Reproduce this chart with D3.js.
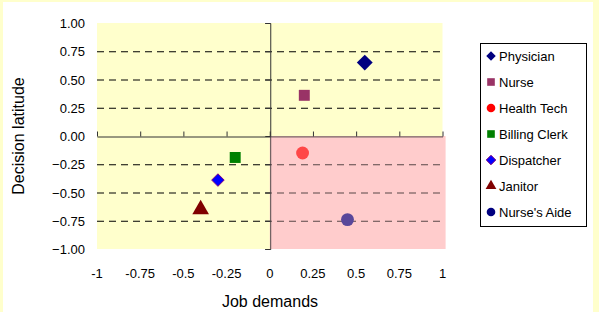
<!DOCTYPE html>
<html>
<head>
<meta charset="utf-8">
<script src="https://cdn.jsdelivr.net/npm/d3@7"></script>
<style>
  body { margin: 0; background: #fff; }
  text { font-family: Arial, "Liberation Sans", sans-serif; fill: #000; }
</style>
</head>
<body>
<div id="chart"></div>
<script>
/* data */
var jobs = ["Physician", "Nurse", "Health Tech", "Billing Clerk", "Dispatcher", "Janitor", "Nurse's Aide"];
var demands = [0.55, 0.20, 0.19, -0.20, -0.30, -0.40, 0.45];
var latitude = [0.65, 0.36, -0.15, -0.19, -0.39, -0.65, -0.74];
var shapes = ["diamond", "square", "circle", "square", "diamond", "triangle", "circle"];
var colors = ["#000080", "#993366", "#ff0000", "#008000", "#0000ff", "#800000", "#000080"];
var xTicks = [-1, -0.75, -0.5, -0.25, 0, 0.25, 0.5, 0.75, 1];
var yTicks = [1, 0.75, 0.5, 0.25, 0, -0.25, -0.5, -0.75, -1];

var width = 599, height = 312;

var svg = d3.select("#chart").append("svg").attr("width", width).attr("height", height);

/* yellow frame */
svg.append("rect").attr("x", 0).attr("y", 0).attr("width", width).attr("height", height).attr("fill", "#ffffcc");
svg.append("rect").attr("x", 3).attr("y", 2).attr("width", 590).attr("height", height - 2).attr("fill", "#fff");

var x = d3.scaleLinear().domain([-1, 1]).range([97, 442.5]);
var y = d3.scaleLinear().domain([-1, 1]).range([249, 23]);

/* plot area */
svg.append("rect")
    .attr("x", x(-1)).attr("y", y(1))
    .attr("width", x(1) - x(-1)).attr("height", y(-1) - y(1))
    .attr("fill", "#ffffcc");

svg.append("rect")
    .attr("x", x(0)).attr("y", y(0))
    .attr("width", x(1) - x(0) + 3).attr("height", y(-1) - y(0))
    .attr("fill", "#ffcccc");

/* dashed gridlines */
svg.append("g").selectAll("line")
  .data(yTicks.filter(function(d) { return Math.abs(d) != 1 && d != 0; }))
  .enter().append("line")
    .attr("x1", x(-1)).attr("x2", x(1))
    .attr("y1", function(d) { return y(d) + 0.5; })
    .attr("y2", function(d) { return y(d) + 0.5; })
    .attr("stroke", "#000")
    .attr("stroke-dasharray", "7,5");

/* axes through the origin */
svg.append("g")
    .attr("transform", "translate(" + (x(0) + 0.5) + ",0)")
    .call(d3.axisLeft(y).tickValues(yTicks).tickSize(5).tickFormat(""))
    .call(function(g) { g.selectAll("path,line").attr("stroke", "#333"); });

svg.append("g")
    .attr("transform", "translate(0," + (y(0) + 0.5) + ")")
    .call(d3.axisTop(x).tickValues(xTicks).tickSize(5).tickSizeOuter(0).tickFormat(""))
    .call(function(g) { g.selectAll("path,line").attr("stroke", "#333"); });

/* tick labels */
svg.append("g").selectAll("text")
  .data(yTicks)
  .enter().append("text")
    .attr("x", 85)
    .attr("y", function(d) { return y(d) + 5; })
    .attr("text-anchor", "end")
    .attr("font-size", "13px")
    .text(function(d) { return d3.format(".2f")(d); });

svg.append("g").selectAll("text")
  .data(xTicks)
  .enter().append("text")
    .attr("x", function(d) { return x(d); })
    .attr("y", 278)
    .attr("text-anchor", "middle")
    .attr("font-size", "13px")
    .text(function(d) { return String(d); });

/* axis titles */
svg.append("text")
    .attr("x", 270).attr("y", 307)
    .attr("text-anchor", "middle")
    .attr("font-size", "16px")
    .text("Job demands");

svg.append("text")
    .attr("transform", "translate(24,136) rotate(-90)")
    .attr("text-anchor", "middle")
    .attr("font-size", "16px")
    .text("Decision latitude");

var markSize = [160, 120, 130, 120, 100, 120, 130];

function symbolFor(s, size) {
  if (s == "diamond") return d3.symbol().type(d3.symbolDiamond2).size(size);
  if (s == "square") return d3.symbol().type(d3.symbolSquare).size(size);
  if (s == "circle") return d3.symbol().type(d3.symbolCircle).size(size);
  return d3.symbol().type(d3.symbolTriangle).size(size);
}

/* markers */
svg.append("g").selectAll("path")
  .data(jobs)
  .enter().append("path")
    .attr("transform", function(d, i) { return "translate(" + x(demands[i]) + "," + y(latitude[i]) + ")"; })
    .attr("d", function(d, i) { return symbolFor(shapes[i], markSize[i])(); })
    .attr("fill", function(d, i) { return colors[i]; })
    .attr("stroke", function(d, i) { return i == 4 ? "#800080" : "none"; })
    .attr("stroke-width", 1);

/* pink hatch overlay on the lower right quadrant */
svg.append("rect")
    .attr("x", x(0) + 1).attr("y", y(0) + 1)
    .attr("width", x(1) - x(0) + 2).attr("height", y(-1) - y(0) - 1)
    .attr("fill", "#ffcccc")
    .attr("opacity", 0.35);

/* legend */
var lg = svg.append("g").attr("transform", "translate(480,43)");
lg.append("rect")
    .attr("x", 0.5).attr("y", 0.5)
    .attr("width", 106).attr("height", 183)
    .attr("fill", "#fff").attr("stroke", "#000");

var item = lg.selectAll("g.item")
  .data(jobs)
  .enter().append("g")
    .attr("class", "item")
    .attr("transform", function(d, i) { return "translate(0," + (13 + i * 26) + ")"; });

item.append("path")
    .attr("transform", "translate(11,0)")
    .attr("d", function(d, i) { return symbolFor(shapes[i], shapes[i] == "triangle" ? 50 : 58)(); })
    .attr("fill", function(d, i) { return colors[i]; })
    .attr("stroke", function(d, i) { return i == 4 ? "#800080" : "none"; });

item.append("text")
    .attr("x", 19).attr("y", 5)
    .attr("font-size", "13px")
    .text(function(d) { return d; });
</script>
</body>
</html>
